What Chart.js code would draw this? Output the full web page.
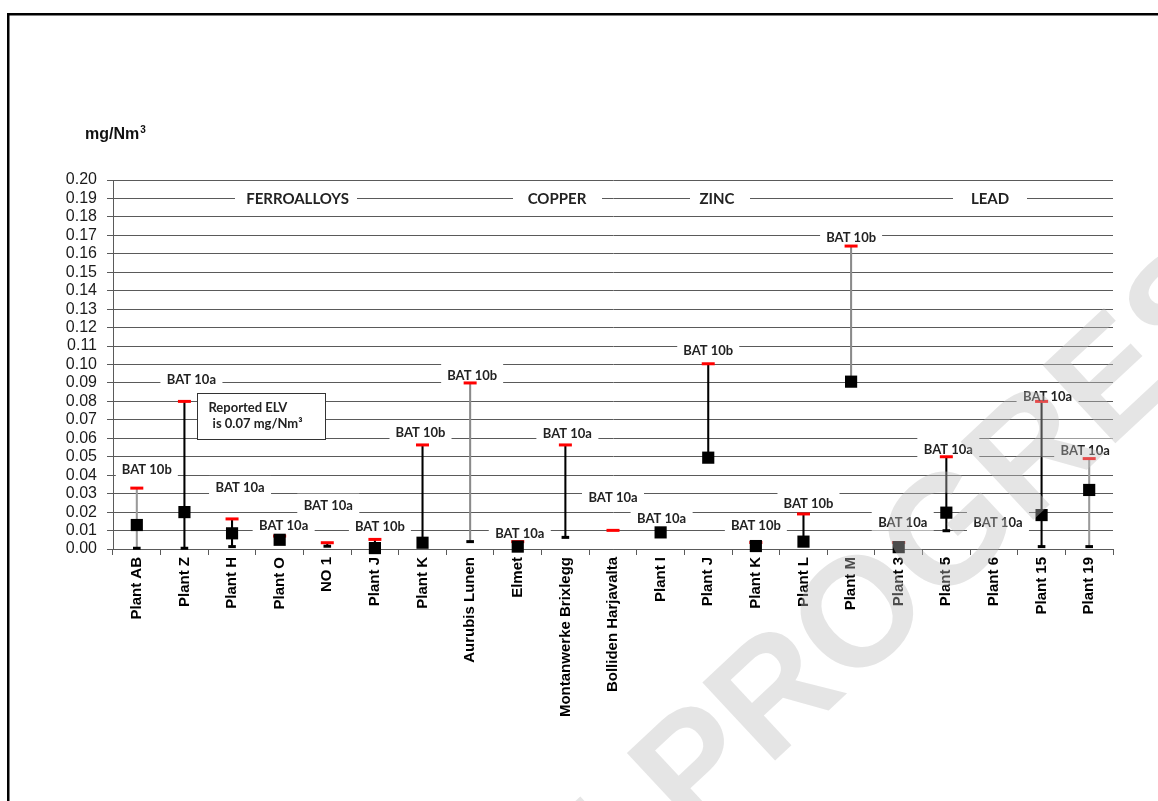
<!DOCTYPE html>
<html>
<head>
<meta charset="utf-8">
<script src="https://cdn.jsdelivr.net/npm/chart.js@4.4.1/dist/chart.umd.min.js"></script>
<style>
  html, body { margin: 0; padding: 0; background: #fff; }
  #wrap { width: 1158px; height: 801px; position: relative; }
</style>
</head>
<body>
<div id="wrap"><canvas id="c" width="1158" height="801"></canvas></div>
<script>
// Plants, grouped by sector (ferroalloys, copper, zinc, lead)
const plants = ['Plant AB', 'Plant Z', 'Plant H', 'Plant O', 'NO 1', 'Plant J', 'Plant K',
  'Aurubis Lunen', 'Elmet', 'Montanwerke Brixlegg', 'Bolliden Harjavalta', 'Plant I',
  'Plant J', 'Plant K', 'Plant L', 'Plant M', 'Plant 3', 'Plant 5', 'Plant 6', 'Plant 15', 'Plant 19'];

// Emission values, mg/Nm3
const maxVals = [0.033, 0.080, 0.0163, 0.007, 0.0034, 0.0052, 0.0564, 0.090, 0.004, 0.0564, 0.0101, null,
  0.1004, 0.0035, 0.019, 0.1642, 0.0035, 0.050, null, 0.080, 0.049];
const avgVals = [0.013, 0.020, 0.0085, 0.005, null, 0.0005, 0.0034, null, 0.0013, null, null, 0.009,
  0.0495, 0.0016, 0.004, 0.0907, 0.001, 0.0197, null, 0.0184, 0.032];
const minVals = [0.0004, 0.0004, 0.0013, null, 0.0015, null, null, 0.004, null, 0.0063, null, null,
  null, null, null, null, null, 0.0099, null, 0.0013, 0.0013];

// BAT reference for each plant
const batLabels = ['BAT 10b', 'BAT 10a', 'BAT 10a', 'BAT 10a', 'BAT 10a', 'BAT 10b', 'BAT 10b',
  'BAT 10b', 'BAT 10a', 'BAT 10a', 'BAT 10a', 'BAT 10a', 'BAT 10b', 'BAT 10b', 'BAT 10b', 'BAT 10b',
  'BAT 10a', 'BAT 10a', 'BAT 10a', 'BAT 10a', 'BAT 10a'];

const sectors = ['FERROALLOYS', 'COPPER', 'ZINC', 'LEAD'];
const yTickLabels = ['0.00', '0.01', '0.02', '0.03', '0.04', '0.05', '0.06', '0.07', '0.08', '0.09', '0.10',
  '0.11', '0.12', '0.13', '0.14', '0.15', '0.16', '0.17', '0.18', '0.19', '0.20'];

// ---- layout / styling ----
const GRID = '#5a5a5a';
const rangeColors = ['#9a9a9a', '#000', '#000', '#000', '#000', '#000', '#000', '#8a8a8a', '#000', '#000', '#000', '#000',
  '#000', '#000', '#000', '#8a8a8a', '#000', '#000', '#000', '#000', '#9a9a9a'];
// label offsets (px) from the plant's top mark
const labelOffsets = [[10, -18], [7, -22], [8, -31], [4, -10], [1, -37], [5, -13], [-2, -12], [2, -7], [2, -8],
  [2, -11], [0, -33], [1, -14], [0, -13], [0, -17], [5, -10], [0, -8], [4, -20], [2, -7], [4, -26], [6, -5], [-4, -8]];
// sector header: text centre and blank-out width, as fraction of plot width
const sectorPos = [[0.1845, 0.183, 122], [0.444, 0.4445, 89], [0.604, 0.607, 60], [0.877, 0.877, 74]];

const rangeData = plants.map((_, i) => {
  const lo = minVals[i] != null ? minVals[i] : avgVals[i];
  return (lo != null && maxVals[i] != null) ? [lo, maxVals[i]] : null;
});

const LBL_FONT = 'bold 13px Lato';
const HDR_FONT = 'bold 15px Lato';

const decorations = {
  id: 'decorations',
  beforeDraw(chart) {
    const ctx = chart.ctx;
    ctx.save();
    ctx.fillStyle = '#fff';
    ctx.fillRect(0, 0, chart.width, chart.height);
    ctx.restore();
  },
  beforeDatasetsDraw(chart) {
    const ctx = chart.ctx, xs = chart.scales.x, ys = chart.scales.y, ca = chart.chartArea;
    ctx.save();
    ctx.fillStyle = '#fff';
    // white backing behind the BAT labels
    plants.forEach((_, i) => {
      const anchor = maxVals[i] != null ? maxVals[i] : (avgVals[i] != null ? avgVals[i] : 0);
      const x = xs.getPixelForValue(i) + labelOffsets[i][0];
      const y = ys.getPixelForValue(anchor) + labelOffsets[i][1];
      ctx.fillRect(x - 31, y - 12, 62, 20);
    });
    // sector headers on the 0.19 line
    const yh = ys.getPixelForValue(0.19);
    sectors.forEach((s, k) => {
      const bx = ca.left + sectorPos[k][1] * (ca.right - ca.left);
      ctx.fillStyle = '#fff';
      ctx.fillRect(bx - sectorPos[k][2] / 2, yh - 9, sectorPos[k][2], 18);
      ctx.fillStyle = '#222';
      ctx.font = HDR_FONT;
      ctx.textAlign = 'center';
      ctx.textBaseline = 'middle';
      ctx.fillText(s, ca.left + sectorPos[k][0] * (ca.right - ca.left), yh + 1);
    });
    // reported ELV note next to Plant Z
    const nx = xs.getPixelForValue(1) + 13, ny = ys.getPixelForValue(0.08) - 8;
    ctx.fillStyle = '#fff';
    ctx.fillRect(nx, ny, 128, 46);
    ctx.strokeStyle = '#333';
    ctx.lineWidth = 1;
    ctx.strokeRect(Math.round(nx) + 0.5, Math.round(ny) + 0.5, 128, 46);
    ctx.fillStyle = '#222';
    ctx.font = LBL_FONT;
    ctx.textAlign = 'left';
    ctx.textBaseline = 'middle';
    ctx.fillText('Reported ELV', nx + 11, ny + 14);
    ctx.fillText(' is 0.07 mg/Nm³', nx + 12, ny + 30);
    ctx.restore();
  },
  afterDatasetsDraw(chart) {
    const ctx = chart.ctx, xs = chart.scales.x, ys = chart.scales.y;
    ctx.save();
    ctx.fillStyle = '#222';
    ctx.font = LBL_FONT;
    ctx.textAlign = 'center';
    ctx.textBaseline = 'middle';
    plants.forEach((_, i) => {
      const anchor = maxVals[i] != null ? maxVals[i] : (avgVals[i] != null ? avgVals[i] : 0);
      const x = xs.getPixelForValue(i) + labelOffsets[i][0];
      const y = ys.getPixelForValue(anchor) + labelOffsets[i][1];
      ctx.fillText(batLabels[i], x, y);
    });
    // unit above the value axis
    ctx.fillStyle = '#111';
    ctx.textAlign = 'left';
    ctx.textBaseline = 'alphabetic';
    ctx.font = 'bold 16px "Liberation Sans"';
    ctx.fillText('mg/Nm', 85, 139);
    const w = ctx.measureText('mg/Nm').width;
    ctx.font = 'bold 10px "Liberation Sans"';
    ctx.fillText('3', 85 + w + 1, 133);
    ctx.restore();
  },
  afterDraw(chart) {
    const ctx = chart.ctx;
    ctx.save();
    // page watermark, running diagonally up to the right
    ctx.translate(692, 838);
    ctx.rotate(-43 * Math.PI / 180);
    ctx.font = 'bold 155px "Liberation Sans"';
    ctx.fillStyle = 'rgba(190,190,190,0.4)';
    ctx.textBaseline = 'alphabetic';
    ctx.textAlign = 'right';
    ctx.fillText('WORKING DRAFT IN ', 0, 0);
    ctx.textAlign = 'left';
    ctx.fillText('PROGRESS', 0, 0);
    ctx.restore();
    // page frame
    ctx.save();
    ctx.fillStyle = '#000';
    ctx.fillRect(7, 13, chart.width - 7, 2.5);
    ctx.fillRect(7, 13, 2.5, chart.height - 13);
    ctx.restore();
  }
};

new Chart(document.getElementById('c'), {
  type: 'bar',
  data: {
    labels: plants,
    datasets: [
      {
        label: 'Range',
        data: rangeData,
        backgroundColor: rangeColors,
        borderWidth: 0,
        barThickness: 1.4,
        order: 4
      },
      {
        type: 'line',
        label: 'Maximum',
        data: maxVals,
        showLine: false,
        pointStyle: 'line',
        pointRadius: 6.5,
        pointBorderWidth: 3,
        pointBorderColor: '#ff0000',
        pointBackgroundColor: '#ff0000',
        clip: false,
        order: 3
      },
      {
        type: 'line',
        label: 'Minimum',
        data: minVals,
        showLine: false,
        pointStyle: 'line',
        pointRadius: 3.8,
        pointBorderWidth: 3,
        pointBorderColor: '#000',
        pointBackgroundColor: '#000',
        clip: false,
        order: 2
      },
      {
        type: 'line',
        label: 'Average',
        data: avgVals,
        showLine: false,
        pointStyle: 'rect',
        pointRadius: 8.6,
        pointBorderWidth: 0,
        pointBackgroundColor: '#000',
        pointBorderColor: '#000',
        clip: false,
        order: 1
      }
    ]
  },
  options: {
    responsive: false,
    animation: false,
    events: [],
    layout: { padding: { top: 180, right: 45, left: 0, bottom: 0 } },
    plugins: { legend: { display: false }, tooltip: { enabled: false }, title: { display: false } },
    scales: {
      x: {
        offset: true,
        grid: { display: true, drawOnChartArea: false, drawTicks: true, tickLength: 6, color: GRID, offset: true },
        border: { display: true, color: GRID, width: 1 },
        ticks: {
          autoSkip: false, maxRotation: 90, minRotation: 90, padding: 2,
          color: '#000', font: { family: '"Liberation Sans"', size: 15, weight: 'bold' }
        },
        afterFit(scale) { scale.height = 252; }
      },
      y: {
        min: 0, max: 0.2,
        grid: { color: GRID, tickLength: 6, lineWidth: 1 },
        border: { display: true, color: GRID, width: 1 },
        ticks: {
          autoSkip: false,
          stepSize: 0.01, padding: 10, color: '#1a1a1a',
          font: { family: '"Liberation Sans"', size: 16 },
          callback: (v) => yTickLabels[Math.round(v * 100)]
        },
        afterFit(scale) { scale.width = 113; }
      }
    }
  },
  plugins: [decorations]
});
</script>
</body>
</html>
